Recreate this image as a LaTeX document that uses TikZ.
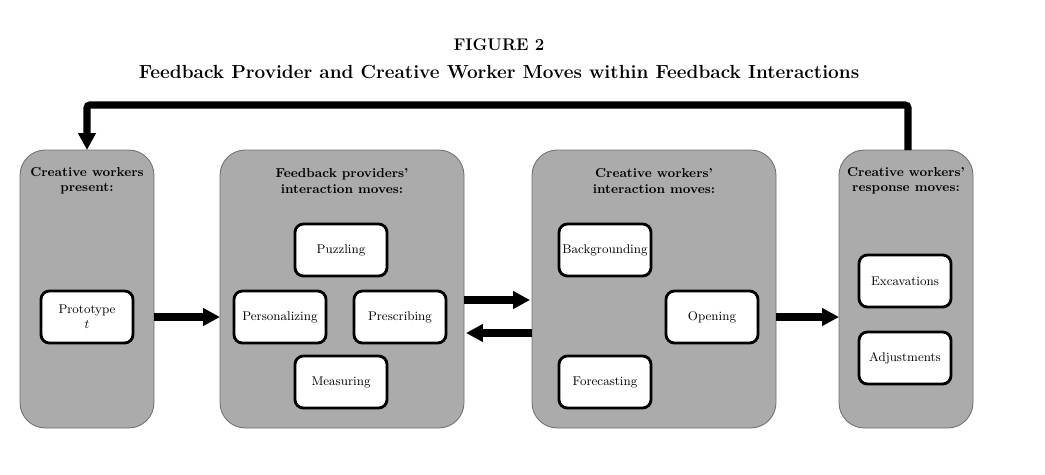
\documentclass[tikz,border=0pt]{standalone}
\usepackage{amsmath,amssymb}
\usepackage{tikz}
\usetikzlibrary{arrows.meta}

\definecolor{panelgray}{HTML}{ABABAB}
\definecolor{panelline}{HTML}{6E6E6E}

\tikzset{
  panel/.style={draw=panelline, fill=panelgray, line width=0.6pt, rounded corners=18pt},
  movebox/.style={draw=black, fill=white, line width=2pt, rounded corners=6pt, inner xsep=2pt,
    minimum width=2.3cm, minimum height=1.3cm, align=center, font=\fontsize{9}{10.5}\selectfont},
  heading/.style={align=center, font=\bfseries\fontsize{9.2}{11}\selectfont},
  flow/.style={line width=5pt, -{Triangle[length=12pt, width=12pt]}}
}

\begin{document}
\begin{tikzpicture}[x=0.025cm, y=-0.025cm]
  \useasboundingbox (0,0) rectangle (1045,474);

  % title
  \node[font=\bfseries\fontsize{12}{14}\selectfont] (fig) at (499,45) {FIGURE 2};
  \node[font=\bfseries\fontsize{13.5}{15}\selectfont] (caption) at (499,72)
    {Feedback Provider and Creative Worker Moves within Feedback Interactions};

  % panels
  \draw[panel] (20,150) rectangle (154,428);
  \draw[panel] (220,150) rectangle (464,428);
  \draw[panel] (532,150) rectangle (776,428);
  \draw[panel] (839,150) rectangle (973,428);
  \coordinate (presL) at (20,317);
  \coordinate (presR) at (154,317);
  \coordinate (provL) at (220,317);
  \coordinate (workR) at (776,317);
  \coordinate (respL) at (839,317);
  \coordinate (respT) at (908,150);
  \coordinate (presT) at (87,150);

  \node[heading] (hpres) at (87,181) {Creative workers\\present:};
  \node[heading] (hprov) at (342,181) {Feedback providers'\\interaction moves:};
  \node[heading] (hwork) at (654,181) {Creative workers'\\interaction moves:};
  \node[heading] (hresp) at (906,181) {Creative workers'\\response moves:};

  % moves
  \node[movebox] (proto) at (87,317) {Prototype\\$t$};
  \node[movebox] (puzz) at (341,250) {Puzzling};
  \node[movebox] (pers) at (280,317) {Personalizing};
  \node[movebox] (presc) at (400,317) {Prescribing};
  \node[movebox] (meas) at (341,382) {Measuring};
  \node[movebox] (backg) at (605,250) {Backgrounding};
  \node[movebox] (open) at (712,317) {Opening};
  \node[movebox] (fore) at (605,382) {Forecasting};
  \node[movebox] (excav) at (905,281) {Excavations};
  \node[movebox] (adjust) at (905,358) {Adjustments};

  % connectors
  \draw[flow] (presR) -- (provL);
  \draw[flow] (464,300) -- (530,300);
  \draw[flow] (532,333) -- (466,333);
  \draw[flow] (workR) -- (respL);
  \draw[flow, rounded corners=2pt] (respT) -- (908,105) -- (87,105) -- (presT);
\end{tikzpicture}
\end{document}
